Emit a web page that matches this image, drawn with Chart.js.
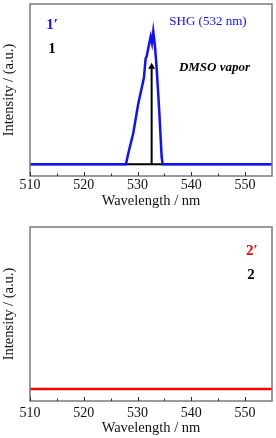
<!DOCTYPE html>
<html>
<head>
<meta charset="utf-8">
<script src="https://cdn.jsdelivr.net/npm/chart.js@4"></script>
<style>
  body { margin: 0; background: #fff; }
  #wrap { position: relative; width: 276px; height: 438px; }
  canvas { position: absolute; left: 0; }
</style>
</head>
<body>
<div id="wrap">
  <canvas id="top_chart" width="276" height="219" style="top:0"></canvas>
  <canvas id="bottom_chart" width="276" height="219" style="top:219px"></canvas>
</div>
<script>
// wavelength axis ticks
const xTicks = [510, 520, 530, 540, 550];
const xMinorTicks = [515, 525, 535, 545];

// spectrum 1' (blue, SHG peak)
const wl_1p = [510, 527.84, 528.27, 529.2, 530.13, 530.76, 531.19, 531.5, 531.7, 532.0, 532.43, 532.68, 532.92, 533.23, 533.55, 534.03, 534.48, 534.66, 555];
const int_1p = [0, 0, 0.09, 0.26, 0.51, 0.64, 0.73, 0.89, 0.91, 0.98, 1.075, 1.02, 1.117, 1.0, 0.81, 0.45, 0.06, 0, 0];

// spectrum 1 (black, flat)
const wl_1 = [510, 555];
const int_1 = [0, 0];

// arrow at 532 nm
const wl_arrow = [532.62, 532.62];
const int_arrow = [0, 0.82];

// spectra 2' (red) and 2 (black), both flat
const wl_2p = [510, 555];
const int_2p = [0, 0];
const wl_2 = [510, 555];
const int_2 = [0, 0];

function pts(xs, ys) {
    return xs.map((x, i) => ({ x: x, y: ys[i] }));
}

// frame + inside ticks + text notes
const framePlugin = {
    id: 'frame',
    afterDraw(chart) {
        const ctx = chart.ctx;
        const a = chart.chartArea;
        const xs = chart.scales.x;
        const ys = chart.scales.y;
        ctx.save();
        ctx.strokeStyle = '#7a7a7a';
        ctx.lineWidth = 1.5;
        ctx.strokeRect(a.left, a.top, a.right - a.left, a.bottom - a.top);
        ctx.strokeStyle = '#333';
        ctx.lineWidth = 1;
        xTicks.forEach(v => {
            const px = Math.round(xs.getPixelForValue(v)) + 0.5;
            ctx.beginPath(); ctx.moveTo(px, a.bottom); ctx.lineTo(px, a.bottom - 4); ctx.stroke();
        });
        xMinorTicks.forEach(v => {
            const px = Math.round(xs.getPixelForValue(v)) + 0.5;
            ctx.beginPath(); ctx.moveTo(px, a.bottom); ctx.lineTo(px, a.bottom - 2.5); ctx.stroke();
        });
        const notes = chart.options.plugins.frame.notes || [];
        notes.forEach(n => {
            ctx.font = n.font;
            ctx.fillStyle = n.color;
            ctx.textAlign = 'center';
            ctx.textBaseline = 'middle';
            ctx.fillText(n.text, xs.getPixelForValue(n.x), ys.getPixelForValue(n.y));
        });
        ctx.restore();
    }
};

function makeOptions(axisH, tickPad, titlePad, pad, notes) {
    return {
        responsive: false,
        animation: false,
        layout: { padding: pad },
        plugins: { legend: { display: false }, tooltip: { enabled: false }, frame: { notes: notes } },
        scales: {
            x: {
                type: 'linear', min: 510, max: 555,
                afterBuildTicks: s => { s.ticks = xTicks.map(v => ({ value: v })); },
                afterFit: s => { s.height = axisH; },
                grid: { display: false, drawTicks: false },
                border: { display: false },
                ticks: { padding: tickPad, color: '#111', font: { family: 'Liberation Serif', size: 14 } },
                title: { display: true, text: 'Wavelength / nm', color: '#111', padding: titlePad,
                         font: { family: 'Liberation Serif', size: 14.5 } }
            },
            y: {
                min: -0.1, max: 1.35,
                afterFit: s => { s.width = 30; },
                grid: { display: false, drawTicks: false },
                border: { display: false },
                ticks: { display: false },
                title: { display: true, text: 'Intensity / (a.u.)', color: '#111', padding: { top: 0, bottom: 0 },
                         font: { family: 'Liberation Serif', size: 14.5 } }
            }
        }
    };
}

const lineBase = { showLine: true, pointRadius: 0, tension: 0, fill: false };

new Chart(document.getElementById('top_chart').getContext('2d'), {
    type: 'scatter',
    data: {
        datasets: [
            Object.assign({}, lineBase, { label: "1'", data: pts(wl_1p, int_1p), borderColor: '#1010ff', borderWidth: 2.5, order: 0 }),
            Object.assign({}, lineBase, { label: '1', data: pts(wl_1, int_1), borderColor: '#000', borderWidth: 2, order: 2 }),
            Object.assign({}, lineBase, { label: 'arrow', data: pts(wl_arrow, int_arrow), borderColor: '#000', borderWidth: 2,
                pointRadius: [0, 4], pointStyle: 'triangle', pointBackgroundColor: '#000', pointBorderWidth: 0, order: 1 })
        ]
    },
    options: makeOptions(43, 1, { top: 0, bottom: 9 }, { top: 2, right: 4, left: 0, bottom: 0 }, [
        { text: '1\u2032', x: 514.09, y: 1.175, color: '#1010ff', font: 'bold 15px "Liberation Serif"' },
        { text: '1', x: 514.09, y: 0.966, color: '#000', font: 'bold 15px "Liberation Serif"' },
        { text: 'SHG (532 nm)', x: 543.09, y: 1.20, color: '#1010ff', font: '13px "Liberation Serif"' },
        { text: 'DMSO vapor', x: 544.3, y: 0.816, color: '#000', font: 'italic bold 13px "Liberation Serif"' }
    ]),
    plugins: [framePlugin]
});

new Chart(document.getElementById('bottom_chart').getContext('2d'), {
    type: 'scatter',
    data: {
        datasets: [
            Object.assign({}, lineBase, { label: "2'", data: pts(wl_2p, int_2p), borderColor: '#ff0000', borderWidth: 2.5, order: 0 }),
            Object.assign({}, lineBase, { label: '2', data: pts(wl_2, int_2), borderColor: '#000', borderWidth: 2, order: 1 })
        ]
    },
    options: makeOptions(37, 4, { top: 0, bottom: 1 }, { top: 8, right: 4, left: 0, bottom: 0 }, [
        { text: '2\u2032', x: 551.26, y: 1.152, color: '#ff0000', font: 'bold 15px "Liberation Serif"' },
        { text: '2', x: 551.08, y: 0.95, color: '#000', font: 'bold 15px "Liberation Serif"' }
    ]),
    plugins: [framePlugin]
});
</script>
</body>
</html>
